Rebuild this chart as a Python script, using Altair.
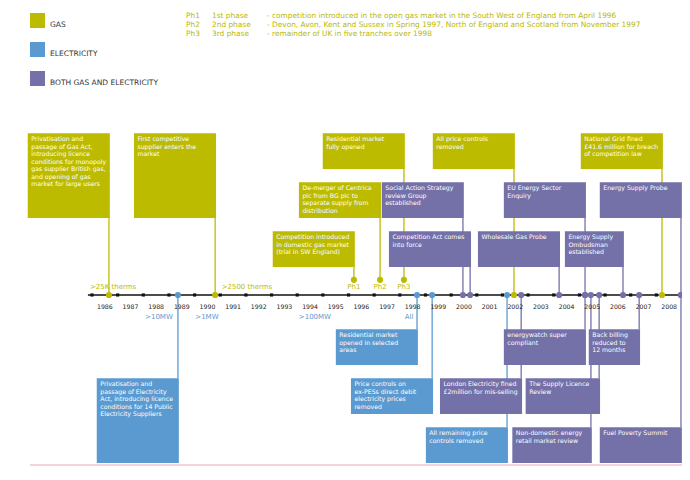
import altair as alt
import pandas as pd

# ------------------------------------------------------------------ data
CATEGORIES = ["GAS", "ELECTRICITY", "BOTH GAS AND ELECTRICITY"]
CAT_COLORS = ["#BDBB00", "#5B9AD0", "#7471A9"]

event_dates = [1986.66, 1990.80, 1996.21, 1997.23, 1998.16, 2002.45, 2008.22,
               1989.35, 1998.67, 1999.26, 2002.18,
               2000.46, 2000.74, 2002.73, 2004.21, 2005.22, 2005.22, 2005.45,
               2005.77, 2006.70, 2007.33, 2008.96, 2008.96]
event_cats = (["GAS"] * 7 + ["ELECTRICITY"] * 4 + ["BOTH GAS AND ELECTRICITY"] * 12)
event_lanes = [3, 3, 1, 2, 3, 3, 3,
               -2, -1, -2, -3,
               2, 1, -2, 1, 2, -1, -3, -2, 1, -1, 2, -3]
event_phase = ["", "", "Ph1", "Ph2", "Ph3", "", "",
               "", "", "", "",
               "", "", "", "", "", "", "", "", "", "", "", ""]
event_texts = [
    "Privatisation and\npassage of Gas Act,\nintroducing licence\nconditions for monopoly\ngas supplier British gas,\nand opening of gas\nmarket for large users",
    "First competitive\nsupplier enters the\nmarket",
    "Competition introduced\nin domestic gas market\n(trial in SW England)",
    "De-merger of Centrica\nplc from BG plc to\nseparate supply from\ndistribution",
    "Residential market\nfully opened",
    "All price controls\nremoved",
    "National Grid fined\n£41.6 million for breach\nof competition law",
    "Privatisation and\npassage of Electricity\nAct, introducing licence\nconditions for 14 Public\nElectricity Suppliers",
    "Residential market\nopened in selected\nareas",
    "Price controls on\nex-PESs direct debit\nelectricity prices\nremoved",
    "All remaining price\ncontrols removed",
    "Social Action Strategy\nreview Group\nestablished",
    "Competition Act comes\ninto force",
    "London Electricity fined\n£2million for mis-selling",
    "Wholesale Gas Probe",
    "EU Energy Sector\nEnquiry",
    "energywatch super\ncompliant",
    "Non-domestic energy\nretail market review",
    "The Supply Licence\nReview",
    "Energy Supply\nOmbudsman\nestablished",
    "Back billing\nreduced to\n12 months",
    "Energy Supply Probe",
    "Fuel Poverty Summit",
]

YEARS = list(range(1986, 2009))
TICK_YEARS = list(range(1986, 2010))

gas_threshold_labels = [">25K therms", ">2500 therms"]
gas_threshold_dates = [1986.82, 1992.04]
elec_threshold_labels = [">10MW", ">1MW", ">100MW", "All"]
elec_threshold_dates = [1988.61, 1990.48, 1994.69, 1998.36]

phase_codes = ["Ph1", "Ph2", "Ph3"]
phase_names = ["1st phase", "2nd phase", "3rd phase"]
phase_notes = [
    "- competition introduced in the open gas market in the South West of England from April 1996",
    "- Devon, Avon, Kent and Sussex in Spring 1997, North of England and Scotland from November 1997",
    "- remainder of UK in five tranches over 1998",
]

# ------------------------------------------------------------------ layout
FONT = "DejaVu Sans"
BOX_YEARS = 3.2
WIDTH_OVERRIDE = {"Non-domestic energy": 3.1, "The Supply Licence": 2.9,
                  "Energy Supply": 2.3, "Back billing": 2.0}
TALL = {"Privatisation and", "First competitive"}
PH_DOT = 0.31

rows = []
for d, c, lane, ph, t in zip(event_dates, event_cats, event_lanes, event_phase, event_texts):
    first = t.split("\n")[0]
    w = WIDTH_OVERRIDE.get(first, BOX_YEARS)
    right = d + 0.035
    left = right - w
    top = lane + 0.30
    bottom = lane - 0.43 - (1 if first in TALL else 0)
    dot_y = PH_DOT if ph else 0.0
    if lane > 0:
        s0, s1 = dot_y, bottom
    else:
        s0, s1 = 0.0, top
    rows.append(dict(date=d, cat=c, left=left, right=right, top=top, bottom=bottom,
                     s0=s0, s1=s1, dot_y=dot_y, text=t, phase=ph))
ev = pd.DataFrame(rows)

xs = alt.Scale(domain=[1982.725, 2009.0], nice=False, zero=False)
ys = alt.Scale(domain=[-3.49, 5.857], nice=False, zero=False)
cs = alt.Scale(domain=CATEGORIES, range=CAT_COLORS)

LEGEND = alt.Legend(orient="none", legendX=22, legendY=5,
                    symbolType="square", symbolSize=225,
                    symbolStrokeWidth=0, symbolOpacity=1,
                    labelFontSize=7.5, labelFont=FONT,
                    labelColor="#333333", labelOffset=5,
                    rowPadding=14, labelBaseline="top",
                    padding=0)


def X(f):
    return alt.X(f, type="quantitative", scale=xs, axis=None)


def Y(f):
    return alt.Y(f, type="quantitative", scale=ys, axis=None)


def C():
    return alt.Color("cat:N", scale=cs, title=None, legend=LEGEND)


# axis line and ticks
axis_df = pd.DataFrame({"x": [YEARS[0] - 0.16], "x2": [TICK_YEARS[-1] + 0.1], "y": [0.0]})
axis_line = alt.Chart(axis_df).mark_rule(color="#111111", strokeWidth=1.6).encode(
    x=X("x"), x2="x2", y=Y("y"))
ticks = alt.Chart(pd.DataFrame({"year": TICK_YEARS, "y": 0.0})).mark_square(
    color="#111111", size=10, opacity=1).encode(x=X("year"), y=Y("y"))
year_df = pd.DataFrame({"label": [str(y) for y in YEARS], "x": [y + 0.5 for y in YEARS], "y": -0.245})
year_labels = alt.Chart(year_df).mark_text(font=FONT, fontSize=6.2, color="#222222",
                                           baseline="middle").encode(
    x=X("x"), y=Y("y"), text="label:N")

stems = alt.Chart(ev).mark_rule(strokeWidth=1.3).encode(
    x=X("date"), y=Y("s0"), y2="s1", color=C())
boxes = alt.Chart(ev).mark_rect(opacity=1).encode(
    x=X("left"), x2="right", y=Y("top"), y2="bottom", color=C())
box_text = alt.Chart(ev).mark_text(font=FONT, fontSize=6.2, lineHeight=7.5, color="white",
                                   align="left", baseline="top", dx=3.5, dy=3,
                                   lineBreak="\n").encode(
    x=X("left"), y=Y("top"), text="text:N")
dots = alt.Chart(ev).mark_circle(size=38, opacity=1).encode(
    x=X("date"), y=Y("dot_y"), color=C())

ph_df = ev[ev["phase"] != ""].assign(ly=0.163)
ph_labels = alt.Chart(ph_df).mark_text(font=FONT, fontSize=7, color=CAT_COLORS[0],
                                       baseline="middle").encode(
    x=X("date"), y=Y("ly"), text="phase:N")

thr_df = pd.DataFrame({
    "label": gas_threshold_labels + elec_threshold_labels,
    "x": gas_threshold_dates + elec_threshold_dates,
    "y": [0.163] * len(gas_threshold_labels) + [-0.449] * len(elec_threshold_labels),
    "cat": ["GAS"] * len(gas_threshold_labels) + ["ELECTRICITY"] * len(elec_threshold_labels),
})
thr_labels = alt.Chart(thr_df).mark_text(font=FONT, fontSize=7, baseline="middle").encode(
    x=X("x"), y=Y("y"), text="label:N", color=C())

red_df = pd.DataFrame({"x": [1983.58], "x2": [2009.3], "y": [-3.47]})
red_line = alt.Chart(red_df).mark_rule(color="#E9A9B3", strokeWidth=1.2).encode(
    x=X("x"), x2="x2", y=Y("y"))

hdr_style = dict(font=FONT, fontSize=7.4, lineHeight=9, color="#B9B800",
                 align="left", baseline="top")
hdr1 = alt.Chart(pd.DataFrame({"a": [0]})).mark_text(text=phase_codes, **hdr_style).encode(
    x=alt.value(178), y=alt.value(4))
hdr2 = alt.Chart(pd.DataFrame({"a": [0]})).mark_text(text=phase_names, **hdr_style).encode(
    x=alt.value(204), y=alt.value(4))
hdr3 = alt.Chart(pd.DataFrame({"a": [0]})).mark_text(text=phase_notes, **hdr_style).encode(
    x=alt.value(259), y=alt.value(4))

chart = alt.layer(
    red_line, axis_line, ticks, stems, boxes, box_text, dots, year_labels,
    ph_labels, thr_labels, hdr1, hdr2, hdr3
).properties(
    width=674, height=458, background="white", padding=0,
    autosize=alt.AutoSizeParams(type="none")
).configure_view(stroke=None)

chart.save("out.html", embed_options={"renderer": "svg", "actions": False})
